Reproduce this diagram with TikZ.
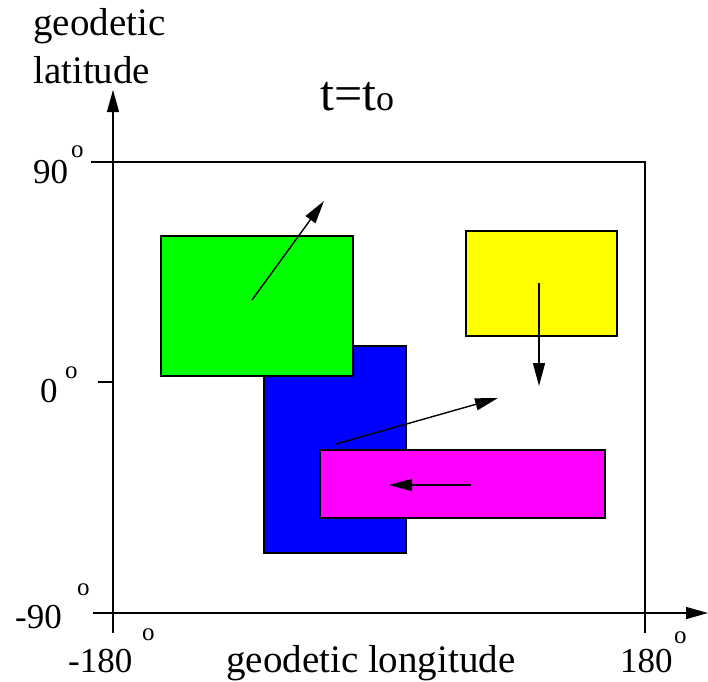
\documentclass[tikz,border=0pt]{standalone}
\usepackage{fontspec}
\setmainfont{Liberation Serif}
\usetikzlibrary{positioning, arrows.meta}
\definecolor{regiongreen}{HTML}{00FF00}
\definecolor{regionblue}{HTML}{0000FF}
\definecolor{regionmagenta}{HTML}{FF00FF}
\definecolor{regionyellow}{HTML}{FFFF00}

\begin{document}
\begin{tikzpicture}[
      x=1pt, y=-1pt,
      region/.style={rectangle, draw, line width=1.4pt, inner sep=0pt, outer sep=0pt,
                     anchor=north west},
      lbl/.style={inner sep=0pt, anchor=base west, font=\fontsize{39}{47}\selectfont},
      num/.style={inner sep=0pt, anchor=base west, font=\fontsize{35}{40}\selectfont},
      deg/.style={inner sep=0pt, anchor=base west, font=\fontsize{25}{28}\selectfont},
      axis/.style={line width=1.3pt, -{Triangle[length=22pt, width=12pt]}},
      tick/.style={line width=1.3pt},
      arrow/.style={line width=1.4pt, -{Triangle[length=23pt, width=12pt]}},
    ]
    \useasboundingbox (0,0) rectangle (708,681);

    % moving regions
    \node[region, fill=regionblue, minimum width=142pt, minimum height=207pt] (blue) at (264,346) {};
    \node[region, fill=regiongreen, minimum width=192pt, minimum height=140pt] (green) at (161,236) {};
    \node[region, fill=regionmagenta, minimum width=285pt, minimum height=68pt] (magenta) at (320,450) {};
    \node[region, fill=regionyellow, minimum width=151pt, minimum height=105pt] (yellow) at (466,231) {};

    % axes and frame
    \coordinate (ytop) at (113,90);
    \coordinate (xend) at (708,613);
    \coordinate (ylow) at (113,633);
    \coordinate (xlow) at (93,613);
    \coordinate (nw) at (113,162);
    \coordinate (ne) at (645,162);
    \coordinate (se) at (645,633);
    \coordinate (t90) at (91,162);
    \coordinate (t0) at (98,382);
    \coordinate (m0) at (113,382);
    \draw[axis] (ylow) -- (ytop);
    \draw[axis] (xlow) -- (xend);
    \draw[tick] (t90) -- (nw) -- (ne) -- (se);
    \draw[tick] (t0) -- (m0);

    % motion vectors
    \coordinate (g1) at (252,300);
    \coordinate (g2) at (324,201);
    \coordinate (y1) at (539,283);
    \coordinate (y2) at (539,386);
    \coordinate (b1) at (336,444);
    \coordinate (b2) at (498,398);
    \coordinate (m1) at (471,485);
    \coordinate (m2) at (389,485);
    \draw[arrow] (g1) -- (g2);
    \draw[arrow] (y1) -- (y2);
    \draw[arrow] (b1) -- (b2);
    \draw[arrow] (m1) -- (m2);

    % labels
    \node[lbl] (ylab1) at (33,35) {geodetic};
    \node[lbl] (ylab2) at (33,83) {latitude};
    \node[lbl] (xlab) at (226,672) {geodetic longitude};
    \node[inner sep=0pt, anchor=base west, font=\fontsize{50}{55}\selectfont] (title) at (320,110)
      {t=t{\fontsize{36}{36}\selectfont o}};

    \node[num] (n90) at (33,183) {90};
    \node[deg] (d90) at (71,157) {o};
    \node[num] (n0) at (40,402) {0};
    \node[deg] (d0) at (65,378) {o};
    \node[num] (nm90) at (15,628) {-90};
    \node[deg] (dm90) at (77,595) {o};
    \node[num] (nm180) at (68,672) {-180};
    \node[deg] (dm180) at (142,640) {o};
    \node[num] (n180) at (620,672) {180};
    \node[deg] (d180) at (674,643) {o};
  \end{tikzpicture}
\end{document}
